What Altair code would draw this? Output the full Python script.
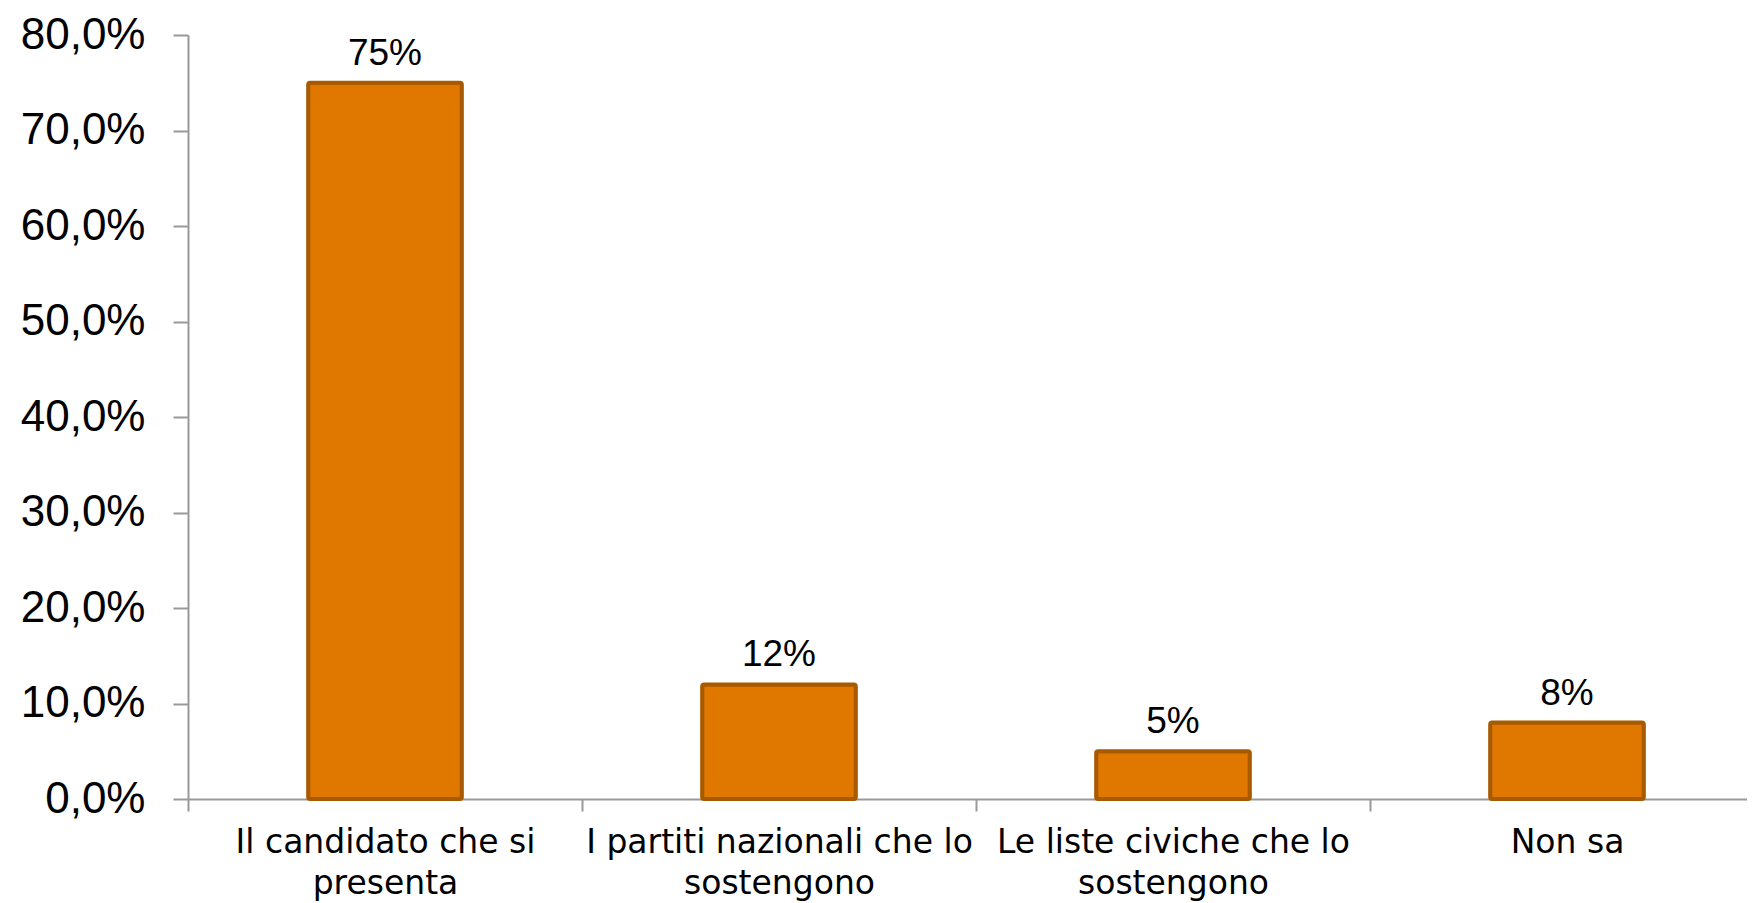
import altair as alt
import pandas as pd

categories = [
    "Il candidato che si\npresenta",
    "I partiti nazionali che lo\nsostengono",
    "Le liste civiche che lo\nsostengono",
    "Non sa",
]
values = [75, 12, 5, 8]
value_labels = ["75%", "12%", "5%", "8%"]
y_ticks = [0, 10, 20, 30, 40, 50, 60, 70, 80]

df = pd.DataFrame({"cat": categories, "val": values, "lab": value_labels})

x_enc = alt.X(
    "cat:N",
    sort=categories,
    title=None,
    scale=alt.Scale(range=[0, 1576], paddingInner=0, paddingOuter=0),
    axis=alt.Axis(
        labelAngle=0,
        labelExpr="split(datum.label, '\\n')",
        labelFont="DejaVu Sans",
        labelFontSize=33,
        labelColor="#000000",
        labelLineHeight=41,
        labelPadding=15,
        labelBaseline="top",
        labelLimit=0,
        tickBand="extent",
        tickSize=12,
        tickColor="#999999",
        tickWidth=2,
        domainColor="#999999",
        domainWidth=2,
        grid=False,
    ),
)

y_enc = alt.Y(
    "val:Q",
    title=None,
    scale=alt.Scale(domain=[0, 80], nice=False),
    axis=alt.Axis(
        values=y_ticks,
        labelExpr="replace(format(datum.value, '.1f'), '.', ',') + '%'",
        labelFont="Liberation Sans",
        labelFontSize=44,
        labelColor="#000000",
        labelPadding=28,
        tickSize=15,
        tickColor="#999999",
        tickWidth=2,
        domainColor="#999999",
        domainWidth=2,
        grid=False,
    ),
)

bars = alt.Chart(df).mark_bar(
    color="#E07800",
    stroke="#A85A00",
    strokeWidth=4,
    cornerRadius=2,
    width=alt.RelativeBandSize(0.39),
).encode(x=x_enc, y=y_enc)

text = alt.Chart(df).mark_text(
    font="Liberation Sans",
    fontSize=37,
    color="#000000",
    baseline="alphabetic",
    dy=-18,
).encode(x=alt.X("cat:N", sort=categories), y="val:Q", text="lab:N")

chart = (
    alt.layer(bars, text)
    .properties(
        width=1559,
        height=764,
        padding={"left": 180, "top": 27, "right": 0, "bottom": 102},
        autosize=alt.AutoSizeParams(type="none"),
    )
    .configure_view(stroke=None)
)

chart.save("out.html", embed_options={"renderer": "svg", "actions": False})
